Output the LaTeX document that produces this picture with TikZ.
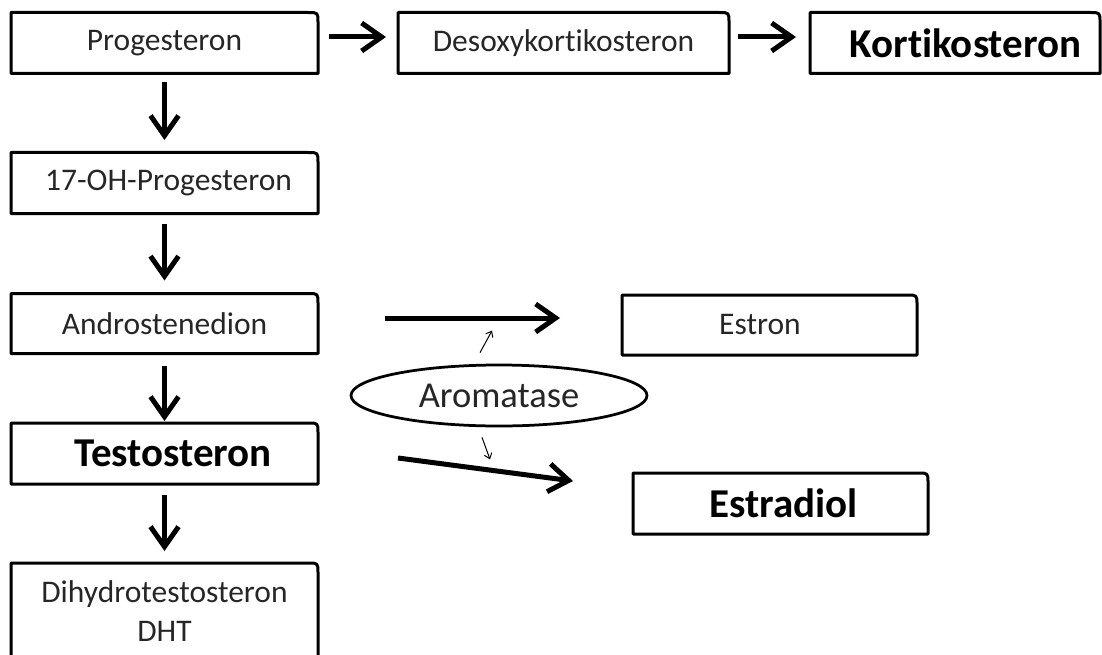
\documentclass[tikz,border=0pt]{standalone}
\usepackage{fontspec}
\setmainfont{Carlito}[RawFeature={-liga}]
\usetikzlibrary{arrows.meta,shapes.geometric}
\newcommand\myrbox[1]{\draw[boxline] (#1.south west) -- (#1.north west) -- ([xshift=-10pt]#1.north east) .. controls (#1.north east) .. ([yshift=-10pt]#1.north east) -- (#1.south east) -- cycle;}
\tikzset{
 box/.style={rectangle, draw=none, inner sep=0pt, outer sep=0pt, minimum width=307pt, minimum height=61pt, font=\fontsize{31.5}{39}\selectfont, text=black!85},
 bbox/.style={box, font=\bfseries\fontsize{41}{49}\selectfont, text=black},
 boxline/.style={line width=3pt, line join=round},
 bigarrow/.style={line width=5pt, -{Straight Barb[length=20pt,width=28pt,line width=5pt]}},
 smallarrow/.style={line width=1pt, -{Straight Barb[length=5pt,width=8pt]}},
}
\begin{document}
\begin{tikzpicture}[x=1pt,y=-1pt]
\useasboundingbox (0,0) rectangle (1102,655);
\clip (0,0) rectangle (1102,655);
% boxes
\node[box] (prog) at (164.5,43) {Progesteron};
\node[box, minimum width=331pt] (desoxy) at (563.5,43) {Desoxykortikosteron};
\node[bbox, minimum width=290pt] (korti) at (955,43) {\kern21pt Kortikosteron};
\node[box] (oh17) at (164.5,183) {\kern8pt 17-OH-Progesteron};
\node[box, minimum height=60pt] (andro) at (164.5,323.5) {Androstenedion};
\node[bbox] (testo) at (164.5,453.5) {\kern17pt Testosteron};
\node[box, minimum height=96pt, align=center] (dht) at (164.5,611) {Dihydrotestosteron\\DHT};
\node[box, minimum width=295pt, minimum height=60pt] (estron) at (769.5,325) {Estron\kern19pt};
\node[bbox, minimum width=295pt] (estradiol) at (780.5,503.5) {\kern6pt Estradiol};
\node[ellipse, draw, line width=2.75pt, inner sep=0pt, minimum width=296pt, minimum height=61pt, font=\fontsize{36.5}{44}\selectfont, text=black!85] (arom) at (499,395.5) {Aromatase};
\foreach \b in {prog,desoxy,korti,oh17,andro,testo,dht,estron,estradiol}{\myrbox{\b}}
% vertical arrows
\draw[bigarrow, shorten <=9pt, shorten >=12.5pt] (prog) -- (oh17);
\draw[bigarrow, shorten <=10pt, shorten >=13pt] (oh17) -- (andro);
\draw[bigarrow, shorten <=12.5pt, shorten >=2pt] (andro) -- (testo);
\draw[bigarrow, shorten <=11pt, shorten >=12pt] (testo) -- (dht);
% horizontal arrows
\draw[bigarrow, shorten <=11pt, shorten >=12pt] ([yshift=6pt]prog.east) -- ([yshift=6pt]desoxy.west);
\draw[bigarrow, shorten <=9pt, shorten >=14pt] ([yshift=6pt]desoxy.east) -- ([yshift=6pt]korti.west);
\draw[bigarrow] ([xshift=67pt,yshift=5.5pt]andro.east) -- ([xshift=-62pt,yshift=7pt]estron.west);
\draw[bigarrow] ([xshift=80pt,yshift=-4.5pt]testo.east) -- ([xshift=-60pt,yshift=22.5pt]estradiol.west);
% small arrows
\draw[smallarrow] ([shift={(-19pt,11pt)}]arom.north) -- ([shift={(-7pt,33pt)}]arom.north);
\draw[smallarrow] ([shift={(-17pt,-10pt)}]arom.south) -- ([shift={(-9pt,-32pt)}]arom.south);
\end{tikzpicture}
\end{document}
